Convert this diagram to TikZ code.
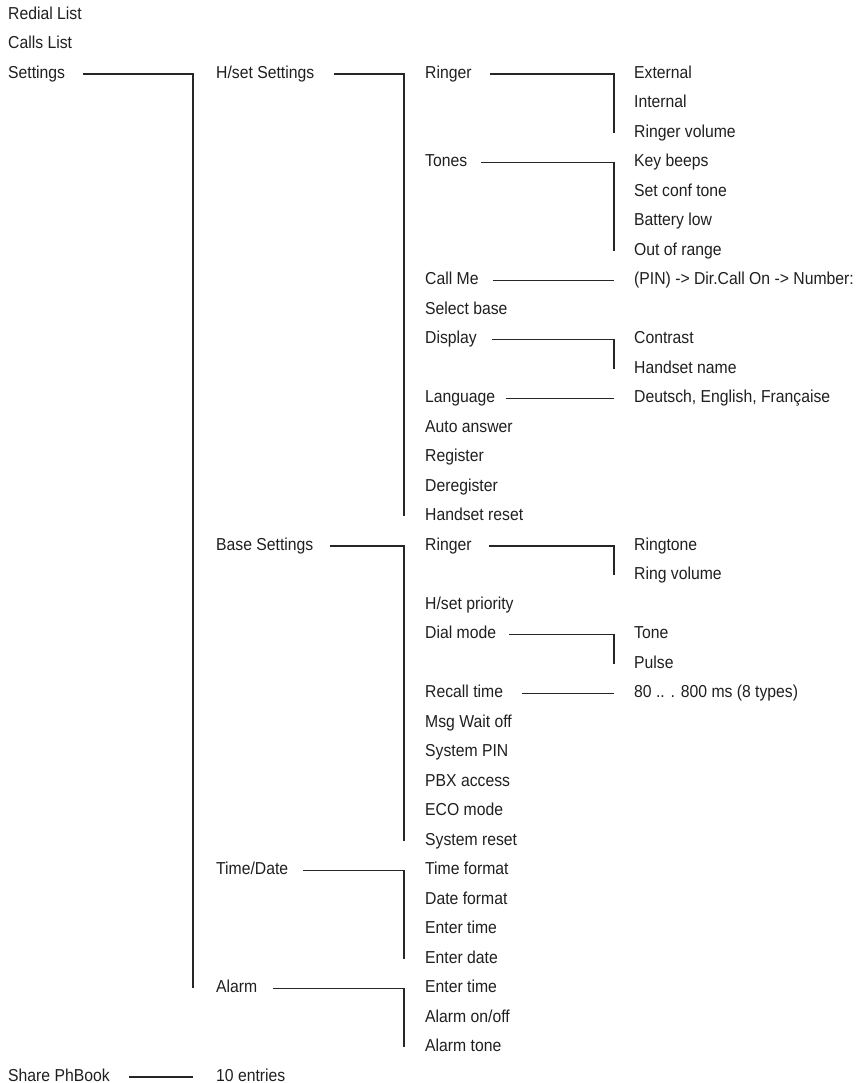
\documentclass[tikz,border=0pt]{standalone}
\usepackage{fontspec}
\setmainfont[FakeStretch=0.91]{Liberation Sans}
\begin{document}
\begin{tikzpicture}[x=1pt,y=-1pt,
  lbl/.style={anchor=base west,inner sep=0pt,text height=9pt,text depth=0pt,
    font=\fontsize{17.3pt}{19pt}\selectfont,text=black!88},
  conn/.style={draw=black!85,line width=1.5pt}]
\useasboundingbox (0,0) rectangle (858,1083);
\def\R#1{19.3+29.5*#1}
\coordinate (xv1) at (193,0);
\coordinate (xv2) at (404,0);
\coordinate (xv3) at (614,0);
% column 0
\node[lbl] (redial) at (8,{\R{0}}) {Redial List};
\node[lbl] (calls) at (8,{\R{1}}) {Calls List};
\node[lbl] (settings) at (8,{\R{2}}) {Settings};
\node[lbl] (share) at (8,{\R{36}}) {Share PhBook};
% column 1
\node[lbl] (hset) at (216,{\R{2}}) {H/set Settings};
\node[lbl] (base) at (216,{\R{18}}) {Base Settings};
\node[lbl] (timedate) at (216,{\R{29}}) {Time/Date};
\node[lbl] (alarm) at (216,{\R{33}}) {Alarm};
\node[lbl] (entries) at (216,{\R{36}}) {10 entries};
% column 2
\node[lbl] (hring) at (425,{\R{2}}) {Ringer};
\node[lbl] (tones) at (425,{\R{5}}) {Tones};
\node[lbl] (callme) at (425,{\R{9}}) {Call Me};
\node[lbl] (selbase) at (425,{\R{10}}) {Select base};
\node[lbl] (display) at (425,{\R{11}}) {Display};
\node[lbl] (language) at (425,{\R{13}}) {Language};
\node[lbl] (autoans) at (425,{\R{14}}) {Auto answer};
\node[lbl] (register) at (425,{\R{15}}) {Register};
\node[lbl] (dereg) at (425,{\R{16}}) {Deregister};
\node[lbl] (hsreset) at (425,{\R{17}}) {Handset reset};
\node[lbl] (bring) at (425,{\R{18}}) {Ringer};
\node[lbl] (hsprio) at (425,{\R{20}}) {H/set priority};
\node[lbl] (dialmode) at (425,{\R{21}}) {Dial mode};
\node[lbl] (recall) at (425,{\R{23}}) {Recall time};
\node[lbl] (msgwait) at (425,{\R{24}}) {Msg Wait off};
\node[lbl] (syspin) at (425,{\R{25}}) {System PIN};
\node[lbl] (pbx) at (425,{\R{26}}) {PBX access};
\node[lbl] (eco) at (425,{\R{27}}) {ECO mode};
\node[lbl] (sysreset) at (425,{\R{28}}) {System reset};
\node[lbl] (timefmt) at (425,{\R{29}}) {Time format};
\node[lbl] (datefmt) at (425,{\R{30}}) {Date format};
\node[lbl] (entertime) at (425,{\R{31}}) {Enter time};
\node[lbl] (enterdate) at (425,{\R{32}}) {Enter date};
\node[lbl] (aentertime) at (425,{\R{33}}) {Enter time};
\node[lbl] (alarmonoff) at (425,{\R{34}}) {Alarm on/off};
\node[lbl] (alarmtone) at (425,{\R{35}}) {Alarm tone};
% column 3
\node[lbl] (external) at (634,{\R{2}}) {External};
\node[lbl] (internal) at (634,{\R{3}}) {Internal};
\node[lbl] (ringvol) at (634,{\R{4}}) {Ringer volume};
\node[lbl] (keybeeps) at (634,{\R{5}}) {Key beeps};
\node[lbl] (conftone) at (634,{\R{6}}) {Set conf tone};
\node[lbl] (battlow) at (634,{\R{7}}) {Battery low};
\node[lbl] (outrange) at (634,{\R{8}}) {Out of range};
\node[lbl] (pin) at (634,{\R{9}}) {(PIN) -> Dir.Call On -> Number:};
\node[lbl] (contrast) at (634,{\R{11}}) {Contrast};
\node[lbl] (hsname) at (634,{\R{12}}) {Handset name};
\node[lbl] (langs) at (634,{\R{13}}) {Deutsch, English, Française};
\node[lbl] (ringtone) at (634,{\R{18}}) {Ringtone};
\node[lbl] (bringvol) at (634,{\R{19}}) {Ring volume};
\node[lbl] (tone) at (634,{\R{21}}) {Tone};
\node[lbl] (pulse) at (634,{\R{22}}) {Pulse};
\node[lbl] (recallval) at (634,{\R{23}}) {80 .. . 800 ms (8 types)};
% connectors
\draw[conn] ([xshift=18pt]settings.east) -| (xv1 |- alarm.east);
\draw[conn] ([xshift=19pt]share.east) -- (xv1 |- share.east);
\draw[conn] ([xshift=20pt]hset.east) -| (xv2 |- hsreset.east);
\draw[conn] ([xshift=16pt]base.east) -| (xv2 |- sysreset.east);
\draw[conn] ([xshift=15pt]timedate.east) -| (xv2 |- enterdate.east);
\draw[conn] ([xshift=15pt]alarm.east) -| (xv2 |- alarmtone.east);
\draw[conn] ([xshift=18pt]hring.east) -| (xv3 |- ringvol.east);
\draw[conn] ([xshift=14pt]tones.east) -| (xv3 |- outrange.east);
\draw[conn] ([xshift=14pt]callme.east) -- (xv3 |- callme.east);
\draw[conn] ([xshift=15pt]display.east) -| (xv3 |- hsname.east);
\draw[conn] ([xshift=11pt]language.east) -- (xv3 |- language.east);
\draw[conn] ([xshift=17pt]bring.east) -| (xv3 |- bringvol.east);
\draw[conn] ([xshift=13pt]dialmode.east) -| (xv3 |- pulse.east);
\draw[conn] ([xshift=19pt]recall.east) -- (xv3 |- recall.east);
\end{tikzpicture}
\end{document}
